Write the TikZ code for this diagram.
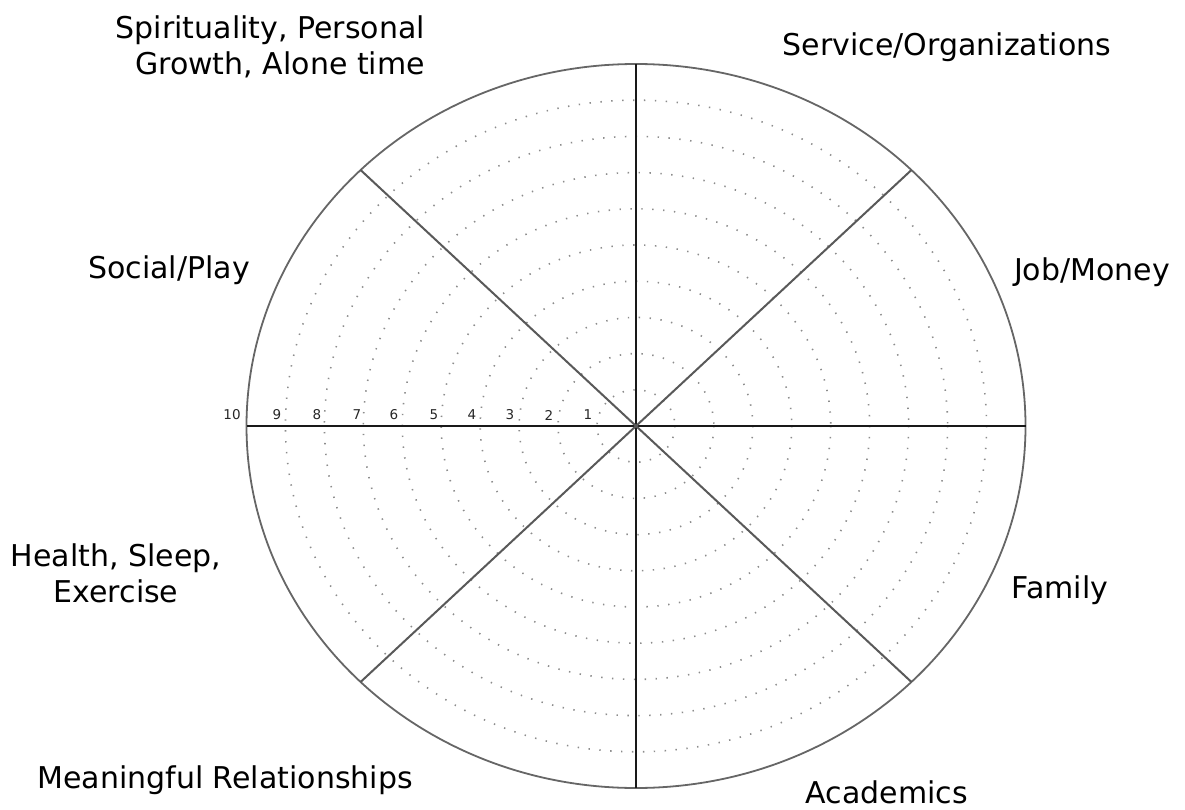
\documentclass[tikz,border=0pt]{standalone}
\usepackage{fontspec}
\setmainfont{DejaVu Sans}
\usetikzlibrary{calc}
\begin{document}
\begin{tikzpicture}[x=1pt,y=-1pt,
  lbl/.style={inner sep=0pt, font=\fontsize{30}{36}\selectfont},
  num/.style={inner sep=0pt, font=\fontsize{13.5}{16}\selectfont, text=black!85},
  rim/.style={line width=1.8pt, draw=black!60},
  axis/.style={line width=2pt, draw=black!90},
  spoke/.style={line width=2pt, draw=black!65},
  ring/.style={draw=black!45, line width=1.6pt, dash pattern=on 1.4pt off 9.5pt}]
\useasboundingbox (0,0) rectangle (1185,810);
\coordinate (c) at (636,426);
% dotted rings
\foreach \k in {1,...,9}{
  \draw[ring] (c) ellipse [x radius={38.95*\k}, y radius={36.2*\k}];
}
% outer rim
\draw[rim] (c) ellipse [x radius=389.5, y radius=362];
\coordinate (top) at (636,64);
\coordinate (bot) at (636,788);
\coordinate (lft) at (246.5,426);
\coordinate (rgt) at (1025.5,426);
\coordinate (ul) at ($(c)+(135:389.5 and 362)$);
\coordinate (ur) at ($(c)+(45:389.5 and 362)$);
\coordinate (ll) at ($(c)+(225:389.5 and 362)$);
\coordinate (lr) at ($(c)+(315:389.5 and 362)$);
\draw[axis] (top) -- (bot);
\draw[axis] (lft) -- (rgt);
\draw[spoke] (ul) -- (lr);
\draw[spoke] (ur) -- (ll);
% scale numbers
\node[num] (n10) at (232,415) {10};
\foreach \k/\xx in {9/277,8/317,7/357,6/394,5/434,4/472,3/510,2/549,1/588}{
  \node[num] (n\k) at (\xx,415) {\k};
}
% labels
\node[lbl, align=right, anchor=east] (spirit) at (425,47) {Spirituality, Personal\\Growth, Alone time};
\node[lbl] (service) at (947,47) {Service/Organizations};
\node[lbl] (social) at (169,270) {Social/Play};
\node[lbl] (job) at (1092,272) {Job/Money};
\node[lbl, align=center] (health) at (116,573) {Health, Sleep,\\Exercise};
\node[lbl] (family) at (1060,590) {Family};
\node[lbl] (meaning) at (225,780) {Meaningful Relationships};
\node[lbl] (acad) at (887,792) {Academics};
\end{tikzpicture}
\end{document}
